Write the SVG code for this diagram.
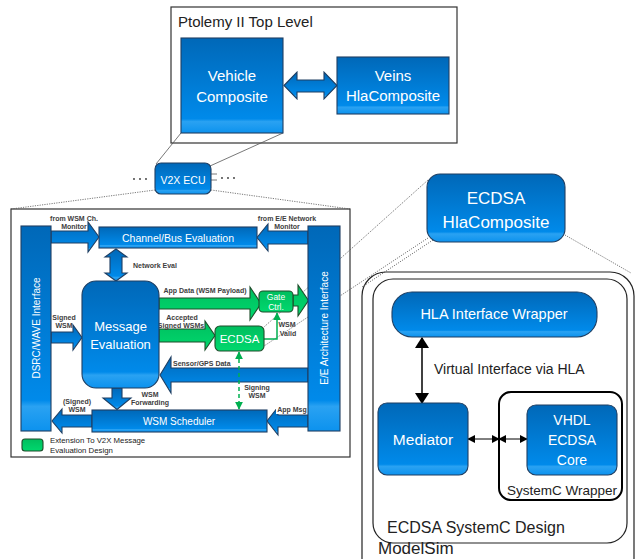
<svg xmlns="http://www.w3.org/2000/svg" width="636" height="559" viewBox="0 0 636 559">
<defs>
<linearGradient id="gb" x1="0" y1="0" x2="0" y2="1">
<stop offset="0" stop-color="#0068B8"/>
<stop offset="0.85" stop-color="#008AEA"/>
<stop offset="0.88" stop-color="#2AA2F2"/>
<stop offset="1" stop-color="#0C92EE"/>
</linearGradient>
<linearGradient id="gg" x1="0" y1="0" x2="0" y2="1">
<stop offset="0" stop-color="#00BE5E"/>
<stop offset="1" stop-color="#00D86E"/>
</linearGradient>
<marker id="bk" viewBox="0 0 10 10" refX="9" refY="5" markerWidth="8" markerHeight="8" markerUnits="userSpaceOnUse" orient="auto-start-reverse">
<path d="M0,0 L10,5 L0,10 z" fill="#000"/>
</marker>
<marker id="bkL" viewBox="0 0 10 10" refX="9" refY="5" markerWidth="11" markerHeight="14" markerUnits="userSpaceOnUse" orient="auto-start-reverse" preserveAspectRatio="none">
<path d="M0,0 L10,5 L0,10 z" fill="#000"/>
</marker>
<marker id="gm" viewBox="0 0 10 10" refX="9" refY="5" markerWidth="8" markerHeight="8" markerUnits="userSpaceOnUse" orient="auto-start-reverse">
<path d="M0,0 L10,5 L0,10 z" fill="#00B050"/>
</marker>
</defs>
<style>
.frame{fill:#fff;stroke:#333;stroke-width:1.2}
.rnd{fill:none;stroke:#222;stroke-width:1.2}
.blue{fill:url(#gb);stroke:#1F3F63;stroke-width:1.1}
.green{fill:url(#gg);stroke:#1E4D2B;stroke-width:1.1}
.t{font-family:"Liberation Sans",Arial,sans-serif;fill:#fff;text-anchor:middle}
.d{font-family:"Liberation Sans",Arial,sans-serif;fill:#222}
.lb{font-family:"Liberation Sans",Arial,sans-serif;fill:#404040;font-size:7px;text-anchor:middle;font-weight:bold}
.st{text-anchor:start}
.thin{stroke:#555;stroke-width:0.8;fill:none}
.dot{stroke:#555;stroke-width:0.8;fill:none;stroke-dasharray:1.2 1.2}
</style>

<g id="ptolemy-top-level">
<rect class="frame" x="171" y="7" width="286" height="136"/>
<text class="d" x="178" y="27" font-size="15">Ptolemy II Top Level</text>
</g>

<g id="ecdsa-systemc-modelsim-frames">
<rect class="rnd" x="362" y="272" width="272" height="310" rx="24"/>
<rect class="rnd" x="373" y="279" width="254" height="264" rx="20"/>
<text class="d" x="387" y="533" font-size="16">ECDSA SystemC Design</text>
<text class="d" x="378" y="554" font-size="17">ModelSim</text>
</g>

<g id="v2x-ecu-frame">
<rect class="frame" x="11" y="209" width="339" height="248"/>
</g>

<g id="connectors">
<line class="thin" x1="181" y1="133" x2="156" y2="164"/>
<line class="thin" x1="283" y1="133" x2="210" y2="166"/>
<line class="dot" x1="155" y1="190" x2="11" y2="209"/>
<line class="dot" x1="211" y1="190" x2="350" y2="209"/>
<line class="dot" x1="428" y1="180" x2="264" y2="327"/>
<line class="dot" x1="428" y1="238" x2="264" y2="346"/>
<line class="dot" x1="433" y1="240" x2="362" y2="287"/>
<line class="dot" x1="565" y1="235" x2="631" y2="273"/>
<line class="thin" x1="211" y1="174" x2="217" y2="174"/>
<line class="thin" x1="211" y1="180" x2="217" y2="180"/>
<g fill="#333">
<circle cx="134" cy="179" r="0.9"/><circle cx="140" cy="179" r="0.9"/><circle cx="146" cy="179" r="0.9"/>
<circle cx="222" cy="178" r="0.9"/><circle cx="228" cy="178" r="0.9"/><circle cx="234" cy="178" r="0.9"/>
</g>
<polygon class="blue" points="284,85.5 297,72 297,80 324,80 324,72 337,85.5 324,99 324,92 297,92 297,99"/>
<polygon class="blue" points="51,231 88,231 88,222 99,237 88,252 88,243 51,243"/>
<polygon class="blue" points="308,231 268,231 268,224 257,237.5 268,251 268,244 308,244"/>
<polygon class="blue" points="116,249 127,257 122,257 122,273 127,273 116,281 105,273 110,273 110,257 105,257"/>
<polygon class="blue" points="308,368 171,368 171,357 160,375 171,393 171,382 308,382"/>
<polygon class="blue" points="112,388 122,388 122,398 131,398 117,409.5 103,398 112,398"/>
<polygon class="blue" points="51,332 73,332 73,325 82,337.5 73,350 73,343 51,343"/>
<polygon class="blue" points="92,415 62,415 62,409 52,421 62,433 62,427 92,427"/>
<polygon class="blue" points="308,415 278,415 278,407 267,421 278,435 278,427 308,427"/>
<polygon class="green" points="159,298 250,298 250,287 261,303.5 250,320 250,309 159,309"/>
<polygon class="green" points="293,295 298,295 298,285 308.5,300.5 298,316 298,306 293,306"/>
<polygon class="green" points="159,329 205,329 205,321 215,335.5 205,350 205,342 159,342"/>
<polyline points="264,339 277,339 277,313" fill="none" stroke="#00B050" stroke-width="1.5" marker-end="url(#gm)"/>
<line x1="239" y1="352" x2="239" y2="409" stroke="#00B050" stroke-width="1.5" stroke-dasharray="4 3" marker-start="url(#gm)" marker-end="url(#gm)"/>
<line x1="422" y1="338" x2="422" y2="403" stroke="#000" stroke-width="1.5" marker-start="url(#bkL)" marker-end="url(#bkL)"/>
<line x1="468" y1="439" x2="499" y2="439" stroke="#000" stroke-width="1" marker-start="url(#bk)" marker-end="url(#bk)"/>
<line x1="499" y1="439" x2="527" y2="439" stroke="#000" stroke-width="1" marker-start="url(#bk)" marker-end="url(#bk)"/>
<text class="lb" x="74" y="220.5">from WSM Ch.</text>
<text class="lb" x="74" y="229">Monitor</text>
<text class="lb" x="287" y="220.5">from E/E Network</text>
<text class="lb" x="287" y="229">Monitor</text>
<text class="lb st" x="133" y="268">Network Eval</text>
<text class="lb" x="205" y="293">App Data (WSM Payload)</text>
<text class="lb" x="182" y="319.5">Accepted</text>
<text class="lb" x="181" y="328">Signed WSMs</text>
<text class="lb" x="64" y="319.5">Signed</text>
<text class="lb" x="64" y="328">WSM</text>
<text class="lb" x="287" y="327">WSM</text>
<text class="lb" x="288" y="336">Valid</text>
<text class="lb st" x="173" y="366">Sensor/GPS Data</text>
<text class="lb" x="150" y="396.5">WSM</text>
<text class="lb" x="150" y="405">Forwarding</text>
<text class="lb" x="257" y="389.5">Signing</text>
<text class="lb" x="257" y="398">WSM</text>
<rect x="63" y="397" width="29" height="16" fill="#fff"/>
<text class="lb" x="77" y="403.5">(Signed)</text>
<text class="lb" x="77" y="412">WSM</text>
<rect x="276" y="404" width="32" height="10" fill="#fff"/>
<text class="lb" x="292" y="412">App Msg</text>
<text class="d" x="434" y="374" font-size="14">Virtual Interface via HLA</text>
</g>

<g id="vehicle-composite">
<rect class="blue" x="181" y="38" width="102" height="95"/>
<text class="t" x="232" y="81" font-size="15">Vehicle</text>
<text class="t" x="232" y="102" font-size="15">Composite</text>
</g>
<g id="veins-hlacomposite">
<rect class="blue" x="337" y="57" width="112" height="57"/>
<text class="t" x="393" y="81" font-size="15">Veins</text>
<text class="t" x="393" y="101" font-size="15">HlaComposite</text>
</g>
<g id="v2x-ecu">
<rect class="blue" x="155" y="163" width="56" height="31" rx="6"/>
<text class="t" x="183" y="184" font-size="10.5">V2X ECU</text>
</g>
<g id="dsrc-wave-interface">
<rect class="blue" x="21" y="226" width="30" height="205"/>
<text class="t" transform="translate(39.6,328) rotate(-90)" font-size="10">DSRC/WAVE Interface</text>
</g>
<g id="ee-architecture-interface">
<rect class="blue" x="308" y="226" width="32" height="205"/>
<text class="t" transform="translate(327.6,328) rotate(-90)" font-size="10">E/E Architecture Interface</text>
</g>
<g id="channel-bus-evaluation">
<rect class="blue" x="99" y="227" width="158" height="21"/>
<text class="t" x="178" y="241.5" font-size="10.5">Channel/Bus Evaluation</text>
</g>
<g id="message-evaluation">
<rect class="blue" x="82" y="281" width="77" height="107" rx="14"/>
<text class="t" x="120.5" y="331" font-size="13">Message</text>
<text class="t" x="120.5" y="349" font-size="13">Evaluation</text>
</g>
<g id="gate-ctrl">
<rect class="green" x="259" y="291" width="34" height="21" rx="4"/>
<text class="t" x="276" y="300" font-size="8.5">Gate</text>
<text class="t" x="276" y="310" font-size="8.5">Ctrl.</text>
</g>
<g id="ecdsa">
<rect class="green" x="215" y="326" width="49" height="25" rx="5"/>
<text class="t" x="239.5" y="343" font-size="11.5">ECDSA</text>
</g>
<g id="wsm-scheduler">
<rect class="blue" x="92" y="410" width="175" height="22"/>
<text class="t" x="179" y="424.5" font-size="10">WSM Scheduler</text>
</g>
<g id="legend">
<rect class="green" x="22" y="439" width="21" height="12" rx="3"/>
<text class="d" x="50" y="443" font-size="7.8" fill="#404040">Extension To V2X Message</text>
<text class="d" x="50" y="453" font-size="7.8" fill="#404040">Evaluation Design</text>
</g>
<g id="ecdsa-hlacomposite">
<rect class="blue" x="427" y="174" width="138" height="68" rx="13"/>
<text class="t" x="496" y="204" font-size="17">ECDSA</text>
<text class="t" x="496" y="228" font-size="17">HlaComposite</text>
</g>
<g id="hla-interface-wrapper">
<rect class="blue" x="392" y="292" width="205" height="45" rx="20"/>
<text class="t" x="494" y="319" font-size="14.5">HLA Interface Wrapper</text>
</g>
<g id="mediator">
<rect class="blue" x="378" y="403" width="90" height="72" rx="9"/>
<text class="t" x="423" y="445" font-size="15.5">Mediator</text>
</g>
<g id="systemc-wrapper">
<rect x="499" y="392" width="123" height="108" rx="12" fill="none" stroke="#000" stroke-width="2"/>
<text class="d" x="562" y="495" font-size="13.5" text-anchor="middle">SystemC Wrapper</text>
</g>
<g id="vhdl-ecdsa-core">
<rect class="blue" x="527" y="405" width="90" height="70" rx="9"/>
<text class="t" x="572" y="425" font-size="14">VHDL</text>
<text class="t" x="572" y="445" font-size="14">ECDSA</text>
<text class="t" x="572" y="465" font-size="14">Core</text>
</g>
</svg>
